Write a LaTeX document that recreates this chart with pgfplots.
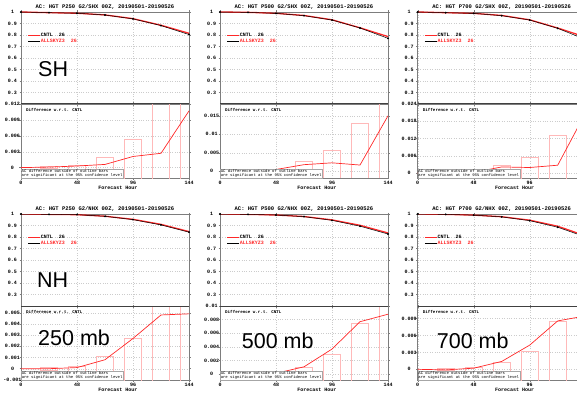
\documentclass[border=0pt]{standalone}
\usepackage{pgfplots}
\pgfplotsset{compat=1.18}
\usepackage{fontspec}
\setmainfont{Liberation Mono}
\newfontfamily\arialf{Liberation Sans}
\definecolor{boxpink}{RGB}{255,185,185}
\definecolor{acred}{RGB}{255,40,40}
\definecolor{frame}{RGB}{125,125,125}
\newcommand\ttlfont{\bfseries\fontsize{5.5}{6}\selectfont}
\newcommand\tlfont{\bfseries\fontsize{5}{6}\selectfont}
\newcommand\lgfont{\bfseries\fontsize{5}{5.5}\selectfont}
\newcommand\smfont{\bfseries\fontsize{4.2}{4.6}\selectfont}
\newcommand\ntfont{\fontsize{3.9}{4.2}\selectfont}
\newcommand\bigfont{\arialf\fontsize{21.5}{22}\selectfont}
\newcommand\cibox[2]{\pgfmathsetmacro\xa{#1-7.5}\pgfmathsetmacro\xb{#1+7.5}%
  \edef\temp{\noexpand\addplot[draw=boxpink, line width=0.55pt, mark=none] coordinates {(\xa,-#2) (\xb,-#2) (\xb,#2) (\xa,#2) (\xa,-#2)};}\temp}
\pgfplotsset{
 acbase/.style={scale only axis, width=168pt, xmin=0, xmax=144, xtick={0,48,96,144},
   grid=major, grid style={dotted, gray!40, line width=0.35pt},
   axis line style={frame, line width=0.6pt},
   major tick length=1.5pt, tick align=outside, tick style={frame, line width=0.4pt},
   tick label style={font=\tlfont},
   /pgf/number format/assume math mode=true,
   yticklabel style={anchor=center, xshift=-7pt},
   clip mode=individual, anchor=north west},
 topax/.style={acbase, height=92pt, ymin=0.2, ymax=1, ytick={0.3,0.4,0.5,0.6,0.7,0.8,0.9,1}, xticklabels={},
   yticklabel style={/pgf/number format/fixed, /pgf/number format/precision=1},
   title style={font=\ttlfont, at={(0.5,1)}, anchor=center, yshift=-1pt},
   legend image code/.code={\draw[##1, line width=0.7pt] (0pt,0pt) -- (12pt,0pt);},
   legend cell align=left,
   legend style={draw=none, fill=none, font=\lgfont, at={(rel axis cs:0,1)}, anchor=north west,
     xshift=6.5pt, yshift=-20pt, inner sep=0pt, row sep=0.5pt, nodes={inner sep=0.5pt}}},
 diffax/.style={acbase, height=74pt, scaled y ticks=false,
   yticklabel style={/pgf/number format/fixed, /pgf/number format/precision=3},
   xticklabel style={anchor=center, yshift=-3.5pt},
   xlabel={Forecast Hour}, xlabel style={font=\tlfont, at={(axis description cs:0.577,0)}, anchor=center, yshift=-10pt}},
 acr/.style={acred, line width=1.3pt, mark=none},
 acb/.style={black, line width=0.5pt, mark=*, mark size=0.7pt},
 dfr/.style={acred, line width=0.7pt, mark=none},
}
\newcommand\difdeco{%
  \draw[black!75, line width=1pt] (rel axis cs:0,1) -- (rel axis cs:1,1);
  \node[anchor=west, font=\smfont, inner sep=0pt] at ([xshift=5pt,yshift=-6pt]rel axis cs:0,1) {Difference w.r.t. CNTL};
  \node[anchor=south west, draw=gray!70, fill=white, font=\ntfont, align=left, inner sep=0.6pt, line width=0.3pt]
     at (rel axis cs:0,0) {AC difference outside of outline bars\\are significant at the 95\% confidence level};}
\newcommand\aclegend{%
  \addlegendimage{black}\addlegendentry{CNTL\ \ 26}
  \addlegendimage{acred}\addlegendentry{\textcolor{acred}{ALLSKYZ3\ \ 26}}}
\begin{document}
\begin{tikzpicture}
\path[use as bounding box] (0,0) rectangle (577pt,394pt);
\clip (0,0) rectangle (577pt,394pt);
% ---------------- SH 250
\begin{axis}[topax, at={(21pt,382pt)}, title={AC: HGT P250 G2/SHX 00Z, 20190501-20190526}]
\addplot[acr] coordinates {(0,1.0)(24,0.9941)(48,0.9893)(72,0.9746)(96,0.9421)(120,0.8847)(144,0.8147)};
\addplot[acb] coordinates {(0,1.0)(24,0.994)(48,0.989)(72,0.974)(96,0.940)(120,0.882)(144,0.804)};
\aclegend
\end{axis}
\begin{axis}[diffax, at={(21pt,290pt)}, ymin=-0.00196, ymax=0.012, ytick={0,0.003,0.006,0.009,0.012}]
\cibox{24}{0.0002}\cibox{48}{0.0004}\cibox{72}{0.0019}\cibox{96}{0.0054}\cibox{120}{0.02}\cibox{144}{0.02}
\addplot[dfr] coordinates {(0,0)(24,0.0001)(48,0.0003)(72,0.0006)(96,0.0021)(120,0.0027)(144,0.0107)};
\difdeco
\end{axis}
% ---------------- SH 500
\begin{axis}[topax, at={(220pt,382pt)}, title={AC: HGT P500 G2/SHX 00Z, 20190501-20190526}]
\addplot[acr] coordinates {(0,1.0)(24,0.9971)(48,0.9885)(72,0.9698)(96,0.9323)(120,0.8627)(144,0.786)};
\addplot[acb] coordinates {(0,1.0)(24,0.997)(48,0.988)(72,0.968)(96,0.930)(120,0.861)(144,0.771)};
\aclegend
\end{axis}
\begin{axis}[diffax, at={(220pt,290pt)}, ymin=-0.0018, ymax=0.0182, ytick={0,0.005,0.01,0.015}]
\cibox{24}{0.0002}\cibox{48}{0.0006}\cibox{72}{0.0026}\cibox{96}{0.0058}\cibox{120}{0.0131}\cibox{144}{0.025}
\addplot[dfr] coordinates {(0,0)(24,0.0001)(48,0.0005)(72,0.0018)(96,0.0023)(120,0.0017)(144,0.015)};
\difdeco
\end{axis}
% ---------------- SH 700
\begin{axis}[topax, at={(417.7pt,382pt)}, title={AC: HGT P700 G2/SHX 00Z, 20190501-20190526}]
\addplot[acr] coordinates {(0,1.0)(24,0.9939)(48,0.9882)(72,0.9701)(96,0.9319)(120,0.8607)(144,0.781)};
\addplot[acb] coordinates {(0,1.0)(24,0.994)(48,0.988)(72,0.968)(96,0.930)(120,0.858)(144,0.760)};
\aclegend
\end{axis}
\begin{axis}[diffax, at={(417.7pt,290pt)}, ymin=-0.00175, ymax=0.024, ytick={0,0.006,0.012,0.018,0.024}]
\cibox{24}{0.0002}\cibox{48}{0.0005}\cibox{72}{0.0026}\cibox{96}{0.0054}\cibox{120}{0.0131}\cibox{144}{0.03}
\addplot[dfr] coordinates {(0,0)(24,-0.0001)(48,0.0002)(72,0.0021)(96,0.0019)(120,0.0027)(144,0.021)};
\difdeco
\end{axis}
% ---------------- NH 250
\begin{axis}[topax, at={(21pt,180pt)}, title={AC: HGT P250 G2/NHX 00Z, 20190501-20190526}]
\addplot[acr] coordinates {(0,1.0)(24,0.997)(48,0.9941)(72,0.9808)(96,0.9537)(120,0.9098)(144,0.8469)};
\addplot[acb] coordinates {(0,1.0)(24,0.997)(48,0.994)(72,0.980)(96,0.951)(120,0.905)(144,0.842)};
\aclegend
\end{axis}
\begin{axis}[diffax, at={(21pt,88pt)}, ymin=-0.00101, ymax=0.0056, ytick={-0.001,0,0.001,0.002,0.003,0.004,0.005}]
\cibox{24}{0.0001}\cibox{48}{0.00024}\cibox{72}{0.00107}\cibox{96}{0.00275}\cibox{120}{0.008}\cibox{144}{0.008}
\addplot[dfr] coordinates {(0,0)(24,0)(48,0.0001)(72,0.0008)(96,0.0027)(120,0.0048)(144,0.0049)};
\difdeco
\end{axis}
% ---------------- NH 500
\begin{axis}[topax, at={(220pt,180pt)}, title={AC: HGT P500 G2/NHX 00Z, 20190501-20190526}]
\addplot[acr] coordinates {(0,1.0)(24,0.997)(48,0.9912)(72,0.9781)(96,0.9487)(120,0.9017)(144,0.8348)};
\addplot[acb] coordinates {(0,1.0)(24,0.997)(48,0.991)(72,0.977)(96,0.945)(120,0.894)(144,0.826)};
\aclegend
\end{axis}
\begin{axis}[diffax, at={(220pt,88pt)}, ymin=-0.00083, ymax=0.01, ytick={0,0.002,0.004,0.006,0.008,0.01}]
\cibox{24}{0.0001}\cibox{48}{0.0003}\cibox{72}{0.001}\cibox{96}{0.003}\cibox{120}{0.0074}\cibox{144}{0.012}
\addplot[dfr] coordinates {(0,0)(24,0)(48,0.00015)(72,0.0011)(96,0.0037)(120,0.0077)(144,0.0088)};
\difdeco
\end{axis}
% ---------------- NH 700
\begin{axis}[topax, at={(417.7pt,180pt)}, title={AC: HGT P700 G2/NHX 00Z, 20190501-20190526}]
\addplot[acr] coordinates {(0,1.0)(24,0.9969)(48,0.9902)(72,0.9764)(96,0.9463)(120,0.8936)(144,0.8095)};
\addplot[acb] coordinates {(0,1.0)(24,0.997)(48,0.990)(72,0.975)(96,0.942)(120,0.885)(144,0.800)};
\aclegend
\end{axis}
\begin{axis}[diffax, at={(417.7pt,88pt)}, ymin=-0.0019, ymax=0.01125, ytick={0,0.003,0.006,0.009}]
\cibox{24}{0.0002}\cibox{48}{0.0004}\cibox{72}{0.0012}\cibox{96}{0.0032}\cibox{120}{0.0085}\cibox{144}{0.012}
\addplot[dfr] coordinates {(0,0)(24,-0.0001)(48,0.0002)(72,0.0014)(96,0.0043)(120,0.0086)(144,0.0095)};
\difdeco
\end{axis}
% ---------------- big labels
\node[anchor=base west, inner sep=0pt, font=\bigfont] at (38pt,317pt) {SH};
\node[anchor=base west, inner sep=0pt, font=\bigfont] at (37pt,106.7pt) {NH};
\node[anchor=base west, inner sep=0pt, font=\bigfont] at (38pt,49pt) {250 mb};
\node[anchor=base west, inner sep=0pt, font=\bigfont] at (241.7pt,46pt) {500 mb};
\node[anchor=base west, inner sep=0pt, font=\bigfont] at (436.7pt,45.7pt) {700 mb};
\end{tikzpicture}
\end{document}
